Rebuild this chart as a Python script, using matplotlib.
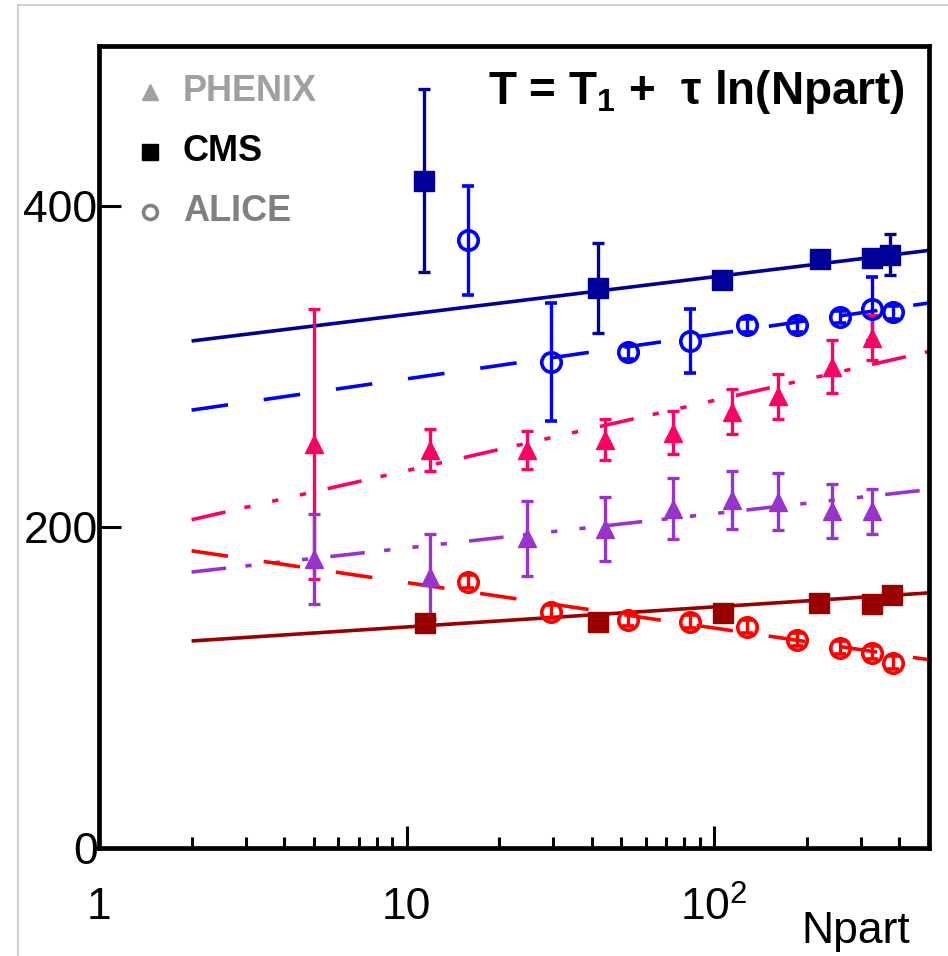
import numpy as np
import matplotlib
matplotlib.use("Agg")
import matplotlib.pyplot as plt
from matplotlib.lines import Line2D

plt.rcParams['font.family'] = ['Liberation Sans', 'DejaVu Sans']
plt.rcParams['mathtext.fontset'] = 'custom'
plt.rcParams['mathtext.rm'] = 'Liberation Sans'
plt.rcParams['mathtext.bf'] = 'Liberation Sans:bold'
plt.rcParams['mathtext.it'] = 'Liberation Sans:italic'
plt.rcParams['lines.scale_dashes'] = False

# ---------------- data ----------------
# CMS (navy, upper)
cms_hi_n = [11.4, 42, 106, 221, 326, 373]
cms_hi_t = [416, 349, 354, 367, 368, 370]
cms_hi_e = [57, 28, 0, 0, 0, 13]
# ALICE (blue, upper)
alice_hi_n = [15.85, 29.5, 52.6, 83.6, 128, 186, 257, 326, 382]
alice_hi_t = [379, 303, 309, 316, 326, 326, 331, 336, 334]
alice_hi_e = [34, 37, 4, 20, 4, 4, 4, 20, 4]
# PHENIX (pink, upper)
phenix_hi_n = [5, 11.9, 24.6, 44.2, 73.6, 114.5, 161.5, 242, 326]
phenix_hi_t = [252, 248, 248, 254.6, 259, 272, 281.5, 300, 318]
phenix_hi_e = [84, 13, 12, 13, 13.5, 14, 14, 16.5, 14]
# PHENIX (purple, lower)
phenix_lo_n = [5, 11.9, 24.6, 44.2, 73.6, 114.5, 161.5, 242, 326]
phenix_lo_t = [180, 169, 193, 199, 211.5, 217, 216, 210, 210]
phenix_lo_e = [28, 26.5, 23.5, 20, 19, 18, 18, 17, 14]
# CMS (dark red, lower)
cms_lo_n = [11.5, 42, 107, 219, 326, 380]
cms_lo_t = [140.4, 141, 146.6, 153, 152, 158]
# ALICE (red, lower)
alice_lo_n = [15.85, 29.5, 52.6, 83.6, 128, 186, 257, 326, 382]
alice_lo_t = [166, 147.3, 142.3, 141, 138, 129.8, 124.8, 121.7, 115.4]
alice_lo_e = [4, 4, 4, 4, 4, 4, 4, 4, 4]

# fit parameters T = T1 + tau ln(Npart)
fit_range = [2, 500]
fit_T1 = {'cms_hi': 309.0, 'alice_hi': 264.6, 'phenix_hi': 191.5,
          'phenix_lo': 165.6, 'cms_lo': 125.3, 'alice_lo': 193.8}
fit_tau = {'cms_hi': 10.23, 'alice_hi': 12.1, 'phenix_hi': 19.0,
           'phenix_lo': 9.31, 'cms_lo': 5.43, 'alice_lo': -12.3}

xtick_vals = [1, 10, 100]
xtick_labels = ['1', '10', r'$\mathregular{10^2}$']
ytick_vals = [0, 200, 400]
ytick_labels = ['0', '200', '400']

# colours
C_NAVY = '#000099'
C_BLUE = '#0000FF'
C_PINK = '#FF0066'
C_PURP = '#9933CC'
C_DRED = '#990000'
C_RED = '#FF0000'

W, H = 948, 956
fig = plt.figure(figsize=(W / 100, H / 100), dpi=100)
ax = fig.add_axes([99 / W, 1 - 848 / H, (929 - 99) / W, (848 - 46) / H])
ax.set_xscale('log')
ax.set_xlim(1, 500)
ax.set_ylim(0, 500)

lw_fit = 2.6
dash = (0, (26.5, 26))
dash3dot = (0, (25, 14, 4.5, 16, 4.5, 16, 4.5, 16))

fx = np.array(fit_range, dtype=float)
def fitline(key, color, ls):
    ax.plot(fx, fit_T1[key] + fit_tau[key] * np.log(fx), color=color,
            lw=lw_fit, linestyle=ls, zorder=2, solid_capstyle='butt', dash_capstyle='butt')

fitline('cms_hi', C_NAVY, '-')
fitline('alice_hi', C_BLUE, dash)
fitline('phenix_hi', C_PINK, dash3dot)
fitline('phenix_lo', C_PURP, dash3dot)
fitline('cms_lo', C_DRED, '-')
fitline('alice_lo', C_RED, dash)

eb = dict(ls='none', elinewidth=2.4, capsize=4.5, capthick=2.4, zorder=3)

ax.errorbar(cms_hi_n, cms_hi_t, yerr=cms_hi_e, color=C_NAVY, marker='s', ms=14, **eb)
ax.errorbar(alice_hi_n, alice_hi_t, yerr=alice_hi_e, color=C_BLUE, marker='o', ms=14,
            mfc='none', mew=2.6, **eb)
ax.errorbar(phenix_hi_n, phenix_hi_t, yerr=phenix_hi_e, color=C_PINK, marker='^', ms=13, **eb)
ax.errorbar(phenix_lo_n, phenix_lo_t, yerr=phenix_lo_e, color=C_PURP, marker='^', ms=13, **eb)
ax.errorbar(cms_lo_n, cms_lo_t, color=C_DRED, marker='s', ms=15, ls='none', zorder=3)
ax.errorbar(alice_lo_n, alice_lo_t, yerr=alice_lo_e, color=C_RED, marker='o', ms=14,
            mfc='none', mew=2.6, **eb)

# axes styling
for sp in ax.spines.values():
    sp.set_linewidth(3.4)
ax.set_xticks(xtick_vals)
ax.set_xticklabels(xtick_labels)
ax.set_yticks(ytick_vals)
ax.set_yticklabels(ytick_labels)
ax.tick_params(axis='both', which='major', direction='in', length=16, width=2.2,
               labelsize=32, top=False, right=False)
ax.tick_params(axis='both', which='minor', direction='in', length=8, width=2.2,
               top=False, right=False)
ax.tick_params(axis='x', which='major', pad=28)
ax.tick_params(axis='y', which='major', pad=1.0)
ax.yaxis.set_minor_locator(matplotlib.ticker.NullLocator())
ax.xaxis.set_minor_formatter(matplotlib.ticker.NullFormatter())

# x label
fig.text(910 / W, 1 - 932 / H, 'Npart', fontsize=32, ha='right', va='center')

# formula
ax.text(0.971, 0.9426, 'T = T$_{\\mathbf{1}}$ +  τ ln(Npart)', transform=ax.transAxes,
        fontsize=33, fontweight='bold', ha='right', va='center', color='black')

# legend
leg_x_m = (150 - 99) / 830
leg_x_t = (183 - 99) / 830
leg_y = [(848 - 92) / 802, (848 - 152) / 802, (848 - 212) / 802]
ax.plot([leg_x_m], [leg_y[0]], transform=ax.transAxes, marker='^', ms=11,
        color='#A0A0A0', ls='none', clip_on=False)
ax.plot([leg_x_m], [leg_y[1]], transform=ax.transAxes, marker='s', ms=11,
        color='black', ls='none', clip_on=False)
ax.plot([leg_x_m], [leg_y[2]], transform=ax.transAxes, marker='o', ms=10,
        mfc='none', mec='#808080', mew=2.6, ls='none', clip_on=False)
ax.text(leg_x_t, leg_y[0], 'PHENIX', transform=ax.transAxes, fontsize=26,
        fontweight='bold', color='#A0A0A0', va='center', ha='left')
ax.text(leg_x_t, leg_y[1], 'CMS', transform=ax.transAxes, fontsize=26,
        fontweight='bold', color='black', va='center', ha='left')
ax.text(leg_x_t, leg_y[2], 'ALICE', transform=ax.transAxes, fontsize=26,
        fontweight='bold', color='#808080', va='center', ha='left')

# faint outer border lines of the original picture
fig.add_artist(Line2D([18 / W, 1], [1 - 5 / H, 1 - 5 / H], color='#C8C8C8', lw=1.2,
                      transform=fig.transFigure))
fig.add_artist(Line2D([18 / W, 18 / W], [0, 1 - 5 / H], color='#C8C8C8', lw=1.2,
                      transform=fig.transFigure))

fig.savefig('out.png', dpi=100)
